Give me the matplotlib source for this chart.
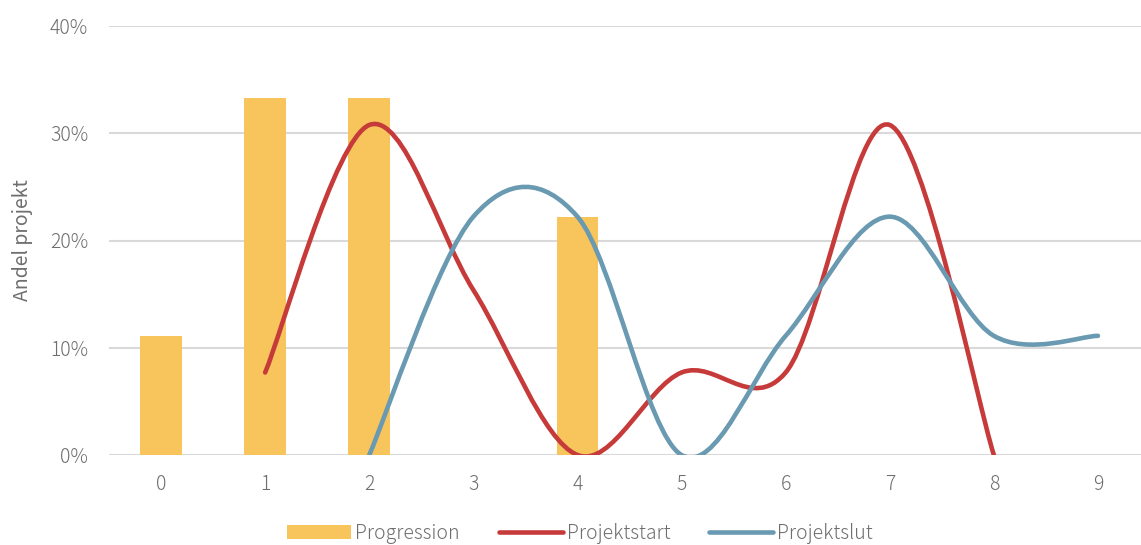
import matplotlib
matplotlib.use("Agg")
import matplotlib.pyplot as plt
from matplotlib.path import Path
from matplotlib.patches import PathPatch, Patch
from matplotlib.lines import Line2D
from matplotlib.ticker import PercentFormatter
import numpy as np

plt.rcParams['font.family'] = ['Noto Sans CJK JP', 'DejaVu Sans']
plt.rcParams['font.weight'] = 'light'

categories = [0, 1, 2, 3, 4, 5, 6, 7, 8, 9]
progression = [1/9, 3/9, 3/9, 0, 2/9, 0, 0, 0, 0, 0]
start_x = [1, 2, 3, 4, 5, 6, 7, 8]
start_vals = [1/13, 4/13, 2/13, 0, 1/13, 1/13, 4/13, 0]
slut_x = [2, 3, 4, 5, 6, 7, 8, 9]
slut_vals = [0, 2/9, 2/9, 0, 1/9, 2/9, 1/9, 1/9]

C_BAR = '#F7C55C'
C_RED = '#C63B3A'
C_BLUE = '#6A9AB1'
C_TEXT = '#6E6E6E'
C_GRID = '#D9D9D9'
FS = 14


def smooth_path(xs, ys):
    xs = np.asarray(xs, float)
    ys = np.asarray(ys, float)
    px = np.concatenate([[xs[0]], xs, [xs[-1]]])
    py = np.concatenate([[ys[0]], ys, [ys[-1]]])
    verts = [(xs[0], ys[0])]
    codes = [Path.MOVETO]
    for i in range(1, len(px) - 2):
        c1 = (px[i] + (px[i + 1] - px[i - 1]) / 6, py[i] + (py[i + 1] - py[i - 1]) / 6)
        c2 = (px[i + 1] - (px[i + 2] - px[i]) / 6, py[i + 1] - (py[i + 2] - py[i]) / 6)
        verts += [c1, c2, (px[i + 1], py[i + 1])]
        codes += [Path.CURVE4] * 3
    return Path(verts, codes)


fig = plt.figure(figsize=(11.41, 5.45), dpi=100)
ax = fig.add_axes([109 / 1141, 90 / 545, 1041 / 1141, 429 / 545])

ax.bar(categories, progression, width=0.4, color=C_BAR, zorder=2)

lw = 3.3
ax.add_patch(PathPatch(smooth_path(start_x, start_vals), fill=False, edgecolor=C_RED,
                       lw=lw, capstyle='round', joinstyle='round', zorder=3))
ax.add_patch(PathPatch(smooth_path(slut_x, slut_vals), fill=False, edgecolor=C_BLUE,
                       lw=lw, capstyle='round', joinstyle='round', zorder=4))

ax.set_xlim(-0.5, 9.5)
ax.set_ylim(0, 0.4)
ax.set_xticks(categories)
ax.set_yticks([0, 0.1, 0.2, 0.3, 0.4])
ax.yaxis.set_major_formatter(PercentFormatter(1.0, decimals=0))
ax.grid(axis='y', color=C_GRID, lw=1.5, zorder=0)
ax.set_axisbelow(True)
for s in ax.spines.values():
    s.set_visible(False)
ax.tick_params(axis='both', length=0, labelsize=FS, labelcolor=C_TEXT)
ax.tick_params(axis='x', pad=14)
ax.tick_params(axis='y', pad=15)
ax.set_ylabel('Andel projekt', fontsize=FS, color=C_TEXT, labelpad=12)

handles = [Patch(facecolor=C_BAR, edgecolor='none'),
           Line2D([], [], color=C_RED, lw=lw, solid_capstyle='round'),
           Line2D([], [], color=C_BLUE, lw=lw, solid_capstyle='round')]
leg = fig.legend(handles, ['Progression', 'Projektstart', 'Projektslut'],
                 loc='center', bbox_to_anchor=(580 / 1141, 1 - 533 / 545), ncol=3,
                 frameon=False, fontsize=FS, handlelength=3.3, handleheight=0.7,
                 handletextpad=0.2, columnspacing=2.0, labelcolor=C_TEXT)

fig.savefig('out.png', dpi=100)
